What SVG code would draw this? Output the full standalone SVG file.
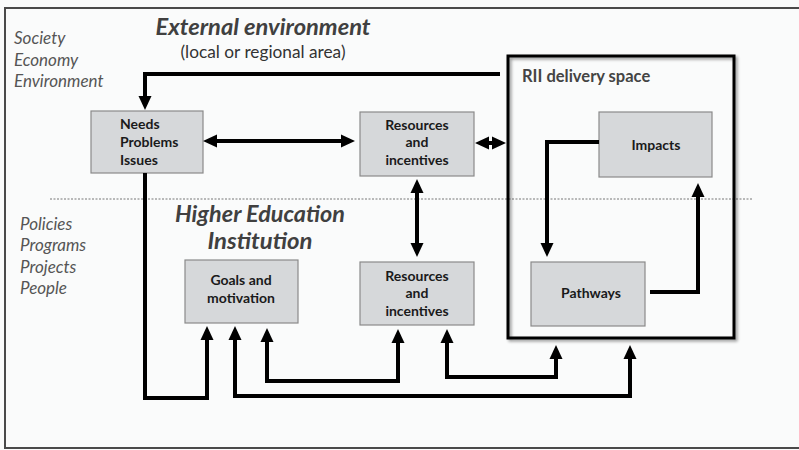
<svg xmlns="http://www.w3.org/2000/svg" width="799" height="450" viewBox="0 0 799 450">
<style>
.bg{fill:#fafbfb}
.frame{fill:none;stroke:#4a4a4a;stroke-width:2}
.box{fill:#d6d8da;stroke:#8a8a8a;stroke-width:1.2}
.lbl{font-family:Lato,"Liberation Sans",sans-serif;font-weight:bold;font-size:14px;fill:#1a1a1a}
.head{font-family:Lato,"Liberation Sans",sans-serif;font-weight:bold;font-style:italic;font-size:22px;fill:#404040}
.side{font-family:Lato,"Liberation Sans",sans-serif;font-style:italic;font-size:17px;fill:#555}
.sub{font-family:Lato,"Liberation Sans",sans-serif;font-size:16.5px;fill:#333}
.con{fill:none;stroke:#000;stroke-width:4;stroke-linejoin:miter}
.dash{fill:none;stroke:#777;stroke-width:1;stroke-dasharray:2 1.5}
</style>
<defs>
<marker id="ah" viewBox="0 0 14 14" refX="1" refY="7" markerWidth="14" markerHeight="14" markerUnits="userSpaceOnUse" orient="auto-start-reverse">
<path d="M0,0.5 L14,7 L0,13.5 z" fill="#000"/>
</marker>
<filter id="sh" x="-5%" y="-5%" width="110%" height="110%">
<feGaussianBlur in="SourceAlpha" stdDeviation="1.5"/>
<feOffset dx="2" dy="2"/>
<feComponentTransfer><feFuncA type="linear" slope="0.4"/></feComponentTransfer>
<feMerge><feMergeNode/><feMergeNode in="SourceGraphic"/></feMerge>
</filter>
</defs>
<rect class="bg" x="0" y="0" width="799" height="450"/>
<path class="frame" d="M801,448 H5 V8 H801"/>

<g id="labels">
<text class="head" x="263" y="35" text-anchor="middle" textLength="215" lengthAdjust="spacingAndGlyphs">External environment</text>
<text class="sub" x="263" y="58" text-anchor="middle" textLength="165" lengthAdjust="spacingAndGlyphs">(local or regional area)</text>
<text class="side" x="14" y="44">Society</text>
<text class="side" x="14" y="66">Economy</text>
<text class="side" x="14" y="87">Environment</text>
<text class="head" x="260" y="222" text-anchor="middle" textLength="170" lengthAdjust="spacingAndGlyphs">Higher Education</text>
<text class="head" x="260" y="249" text-anchor="middle" textLength="105" lengthAdjust="spacingAndGlyphs">Institution</text>
<text class="side" x="20" y="230">Policies</text>
<text class="side" x="20" y="251">Programs</text>
<text class="side" x="20" y="273">Projects</text>
<text class="side" x="20" y="294">People</text>
</g>

<line class="dash" x1="50" y1="199" x2="752" y2="199"/>

<g id="rii">
<rect x="508" y="56" width="226" height="282" fill="none" stroke="#000" stroke-width="3" filter="url(#sh)"/>
<text x="522" y="82" font-family="Lato,'Liberation Sans',sans-serif" font-weight="bold" font-size="16.5" fill="#444">RII delivery space</text>
</g>

<g id="needs">
<rect class="box" x="91" y="111" width="112" height="62"/>
<text class="lbl" x="120" y="129">Needs</text>
<text class="lbl" x="120" y="147">Problems</text>
<text class="lbl" x="120" y="165">Issues</text>
</g>

<g id="resources1">
<rect class="box" x="360" y="112" width="114" height="64"/>
<text class="lbl" x="417" y="130" text-anchor="middle">Resources</text>
<text class="lbl" x="417" y="147" text-anchor="middle">and</text>
<text class="lbl" x="417" y="165" text-anchor="middle">incentives</text>
</g>

<g id="impacts">
<rect class="box" x="599" y="112" width="113" height="65"/>
<text class="lbl" x="656" y="150" text-anchor="middle">Impacts</text>
</g>

<g id="goals">
<rect class="box" x="185" y="260" width="113" height="63"/>
<text class="lbl" x="241" y="285" text-anchor="middle">Goals and</text>
<text class="lbl" x="241" y="303" text-anchor="middle">motivation</text>
</g>

<g id="resources2">
<rect class="box" x="360" y="262" width="114" height="63"/>
<text class="lbl" x="417" y="281" text-anchor="middle">Resources</text>
<text class="lbl" x="417" y="298" text-anchor="middle">and</text>
<text class="lbl" x="417" y="316" text-anchor="middle">incentives</text>
</g>

<g id="pathways">
<rect class="box" x="531" y="262" width="114" height="64"/>
<text class="lbl" x="591" y="298" text-anchor="middle">Pathways</text>
</g>

<g id="connectors">
<path class="con" d="M500,74 H145 V97" marker-end="url(#ah)"/>
<path class="con" d="M216,141 H342" marker-start="url(#ah)" marker-end="url(#ah)"/>
<path class="con" d="M488,143 H493" marker-start="url(#ah)" marker-end="url(#ah)"/>
<path class="con" d="M599,142 H547 V244" marker-end="url(#ah)"/>
<path class="con" d="M650,292 H698 V196" marker-end="url(#ah)"/>
<path class="con" d="M417,192 V244" marker-start="url(#ah)" marker-end="url(#ah)"/>
<path class="con" d="M145,173 V398 H207 V339" marker-end="url(#ah)"/>
<path class="con" d="M267,341 V381 H398 V342" marker-start="url(#ah)" marker-end="url(#ah)"/>
<path class="con" d="M447,342 V377 H556 V358" marker-start="url(#ah)" marker-end="url(#ah)"/>
<path class="con" d="M235,339 V396 H630 V358" marker-start="url(#ah)" marker-end="url(#ah)"/>
</g>
</svg>
